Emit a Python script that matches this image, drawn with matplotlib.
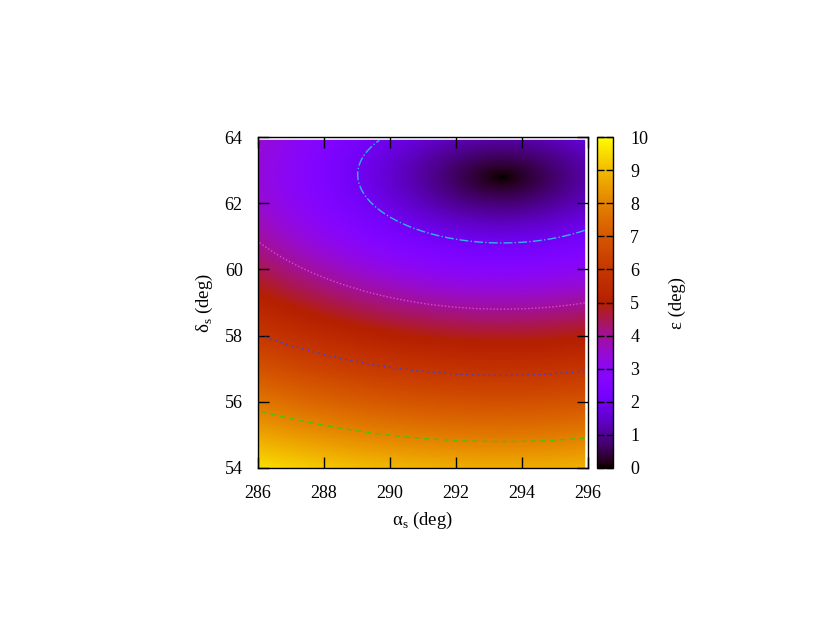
import numpy as np
import matplotlib
matplotlib.use('Agg')
import matplotlib.pyplot as plt

# best-fit source position (minimum of epsilon)
alpha_best = 293.4
delta_best = 62.8

# grid extents of the scan (deg)
alpha_range = [286.0, 295.9]
delta_range = [54.0, 63.9]

# contour levels and their styles
contour_levels = [2, 4, 6, 8]
contour_colors = ['#2fb4f0', '#d848e0', '#4a3fd0', '#4cc010']
contour_styles = ['dashdot', (0, (1, 1.5)), (0, (1.5, 2.5)), (0, (4, 3))]

x_ticks = [286, 288, 290, 292, 294, 296]
y_ticks = [54, 56, 58, 60, 62, 64]
cb_ticks = [0, 1, 2, 3, 4, 5, 6, 7, 8, 9, 10]

plt.rcParams['font.family'] = ['Liberation Serif', 'DejaVu Serif']
plt.rcParams['mathtext.fontset'] = 'custom'
plt.rcParams['mathtext.rm'] = 'Liberation Serif'
plt.rcParams['font.size'] = 13

# angular separation from the best-fit position
a = np.linspace(alpha_range[0], alpha_range[1], 200)
d = np.linspace(delta_range[0], delta_range[1], 200)
A, D = np.meshgrid(a, d)
ar, dr = np.radians(A), np.radians(D)
a0, d0 = np.radians(alpha_best), np.radians(delta_best)
cos_eps = np.sin(dr) * np.sin(d0) + np.cos(dr) * np.cos(d0) * np.cos(ar - a0)
eps = np.degrees(np.arccos(np.clip(cos_eps, -1, 1)))

fig = plt.figure(figsize=(8.17, 6.32), dpi=100)
ax = fig.add_axes([0.3158, 0.2595, 0.4039, 0.5237])
cax = fig.add_axes([0.7307, 0.2595, 0.0202, 0.5237])

mesh = ax.pcolormesh(A, D, eps, cmap='gnuplot', vmin=0, vmax=10,
                     shading='gouraud', rasterized=True)
for lev, col, ls in zip(contour_levels, contour_colors, contour_styles):
    ax.contour(A, D, eps, levels=[lev], colors=[col], linewidths=1.0,
               linestyles=[ls])

ax.set_xlim(286, 296)
ax.set_ylim(54, 64)
ax.set_xticks(x_ticks)
ax.set_yticks(y_ticks)
ax.tick_params(direction='in', length=8, width=1, top=True, right=True,
               labelsize=13)
ax.tick_params(axis='x', pad=12)
ax.tick_params(axis='y', pad=11)
for sp in ax.spines.values():
    sp.set_linewidth(1.0)
ax.set_xlabel(r'α$_{\rm s}$ (deg)', fontsize=13.5, labelpad=6)
ax.set_ylabel(r'δ$_{\rm s}$ (deg)', fontsize=13.5, labelpad=7)

cb = fig.colorbar(mesh, cax=cax)
cb.set_ticks(cb_ticks)
cax.tick_params(direction='in', length=5, width=1, left=True, right=True,
                pad=12, labelsize=13)
cb.outline.set_linewidth(1.0)
cb.set_label('ε (deg)', fontsize=13.5, labelpad=15)

fig.savefig('out.png', dpi=100)
